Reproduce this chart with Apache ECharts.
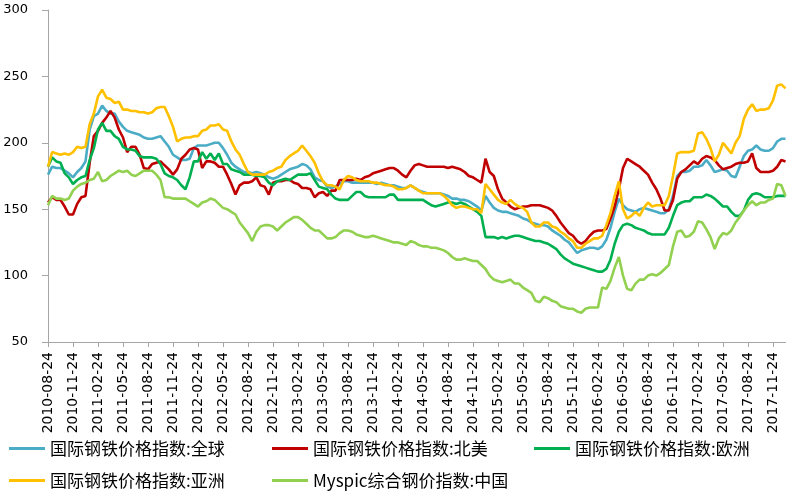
<!DOCTYPE html>
<html><head><meta charset="utf-8">
<script src="https://cdn.jsdelivr.net/npm/echarts@6/dist/echarts.min.js"></script>
<style>html,body{margin:0;padding:0;background:#fff}#c{width:797px;height:497px}</style>
</head><body><div id="c"></div>
<script>
// Series names
const seriesNames = ['国际钢铁价格指数:全球','国际钢铁价格指数:北美','国际钢铁价格指数:欧洲','国际钢铁价格指数:亚洲','Myspic综合钢价指数:中国'];
const seriesColors = ['#4BACC6','#C00000','#00B050','#FFC000','#92D050'];

// Half-monthly observations starting 2010-08-24 (labels every quarter)
const globalIdx = [
176,182,181,181,179,177,174,178,181,186,210,220,
222,228,224,222,222,216,212,209,208,207,206,204,
203,203,204,205,201,197,191,189,187,187,188,196,
198,198,198,199,200,200,196,191,185,182,180,178,
178,177,178,177,176,174,173,174,176,178,180,181,
182,184,183,180,174,172,171,167,166,167,169,171,
171,170,170,170,170,170,170,169,170,169,168,168,
167,166,166,168,166,164,163,162,162,162,162,161,
160,158,158,157,157,156,154,152,149,160,155,151,
149,148,148,147,146,145,143,142,140,139,138,138,
137,134,132,130,127,125,121,117,119,120,121,121,
120,122,127,136,148,158,153,150,149,148,150,151,
150,149,148,147,147,150,160,175,178,178,179,182,
182,183,187,183,178,179,180,179,175,174,182,190,
194,195,198,195,194,194,196,201,203,203];
const northAmerica = [
155,159,157,157,152,146,146,154,159,160,185,205,
209,215,219,224,219,210,204,193,197,197,191,181,
180,184,185,186,183,180,176,180,188,191,195,196,
195,181,186,186,185,182,182,176,169,161,168,170,
170,171,174,168,167,161,170,171,171,172,172,170,
169,166,166,165,159,162,163,160,164,164,172,172,
172,172,173,172,174,175,177,178,179,180,181,181,
179,176,174,179,183,184,183,182,182,182,182,182,
181,182,181,180,178,175,174,172,170,188,178,175,
165,158,155,152,150,151,152,152,153,153,153,152,
151,149,145,140,136,132,130,126,124,126,130,133,
134,134,135,143,152,165,181,188,186,184,182,179,
176,170,165,158,149,149,157,173,178,180,183,186,
184,188,190,189,187,183,180,181,182,184,185,185,
186,192,181,178,178,178,179,182,187,186];
const europe = [
182,189,186,185,177,174,169,172,174,175,187,196,
210,215,209,209,205,203,197,195,195,194,190,189,
189,189,188,184,177,175,174,172,168,165,174,186,
186,193,188,192,187,192,184,184,180,179,178,176,
176,176,175,175,174,170,168,171,172,173,172,174,
176,176,176,177,172,167,166,165,161,158,157,157,
157,160,163,163,160,159,159,159,159,159,161,161,
157,157,157,157,157,157,157,155,153,152,153,154,
155,155,154,155,154,152,150,148,145,129,129,129,
128,129,128,129,130,130,129,128,127,126,126,125,
124,122,120,116,113,111,109,108,107,106,105,104,
103,103,105,112,124,133,138,139,138,136,135,134,
132,131,131,131,131,136,145,153,155,156,156,159,
159,159,161,160,158,155,152,152,148,145,145,149,
157,161,162,161,159,159,159,160,160,160];
const asia = [
182,193,192,191,192,191,193,197,196,197,214,222,
235,240,234,233,230,231,225,225,224,224,223,223,
222,223,226,227,227,220,212,201,203,204,204,205,
205,209,210,213,213,214,210,209,201,195,191,184,
178,176,176,176,176,178,179,181,182,187,190,192,
194,198,194,190,185,177,171,168,168,167,165,172,
175,174,172,171,171,171,170,170,169,168,168,167,
165,165,166,168,166,164,162,162,162,162,162,160,
157,153,151,152,152,151,150,150,147,169,165,161,
157,155,154,157,154,152,151,148,140,137,137,140,
140,137,136,133,131,128,126,121,121,124,126,128,
128,130,138,147,160,171,150,143,145,148,145,151,
155,152,153,153,153,160,175,192,193,193,193,194,
207,208,203,196,186,191,200,196,192,200,205,218,
225,229,224,225,225,226,232,243,244,241];
const china = [
153,160,158,158,157,158,164,167,169,170,172,173,
178,171,172,175,177,179,178,179,176,175,177,179,
179,179,176,172,159,159,158,158,158,158,156,154,
152,155,156,158,157,154,151,150,148,146,140,136,
132,126,133,137,138,138,137,134,137,140,142,144,
144,142,139,136,134,134,131,128,128,129,132,134,
134,133,131,130,129,129,130,129,128,127,126,125,
125,124,123,126,125,123,122,122,121,121,120,119,
117,114,112,112,113,112,111,111,108,105,100,97,
96,95,96,97,94,94,91,89,87,81,80,84,
83,81,80,77,76,75,75,73,72,75,76,76,
76,91,90,96,106,114,100,90,89,94,97,97,
100,101,100,102,105,108,122,133,134,129,130,133,
141,140,135,129,120,128,132,131,134,140,144,149,
153,156,153,155,155,157,158,169,168,160];
const seriesData = [globalIdx, northAmerica, europe, asia, china];

// Category dates: the 24th and the 8th, alternating, from 2010-08-24
const categories = [];
(function(){
  let y = 2010, m = 8;
  const pad = n => (n < 10 ? '0' : '') + n;
  for (let k = 0; k < globalIdx.length; k++) {
    if (k % 2 === 0) { categories.push(y + '-' + pad(m) + '-24'); }
    else { m++; if (m > 12) { m = 1; y++; } categories.push(y + '-' + pad(m) + '-08'); }
  }
})();

const yMin = 50, yMax = 300, yStep = 50;

const chart = echarts.init(document.getElementById('c'), null, {renderer:'canvas'});
const legendPos = [[9,440],[272,440],[534,440],[9,472],[272,472]];
chart.setOption({
  animation:false,
  grid:{left:48,right:11.5,top:10,bottom:155,containLabel:false},
  legend: seriesNames.map((n,i)=>({
    data:[n], left:legendPos[i][0], top:legendPos[i][1], padding:0,
    icon:'rect', itemWidth:36, itemHeight:3,
    textStyle:{fontFamily:'Noto Sans CJK SC',fontSize:17,color:'#000'}
  })),
  xAxis:{
    type:'category', data:categories, boundaryGap:false,
    axisLine:{lineStyle:{color:'#A6A6A6',width:1}},
    axisTick:{show:true,interval:5,length:5,lineStyle:{color:'#A6A6A6'}},
    axisLabel:{interval:5,rotate:90,margin:10,fontFamily:'DejaVu Sans',fontSize:14,color:'#000'},
    splitLine:{show:false}
  },
  yAxis:{
    type:'value', min:yMin, max:yMax, interval:yStep,
    axisLine:{show:true,lineStyle:{color:'#A6A6A6',width:1}},
    axisTick:{show:true,length:6,lineStyle:{color:'#A6A6A6'}},
    axisLabel:{margin:20,fontFamily:'DejaVu Sans',fontSize:13,color:'#000'},
    splitLine:{show:false}
  },
  series: seriesNames.map((n,i)=>({
    name:n, type:'line', data:seriesData[i], showSymbol:false, symbol:'none',
    lineStyle:{color:seriesColors[i],width:2.6}, itemStyle:{color:seriesColors[i]}
  }))
});
</script></body></html>
